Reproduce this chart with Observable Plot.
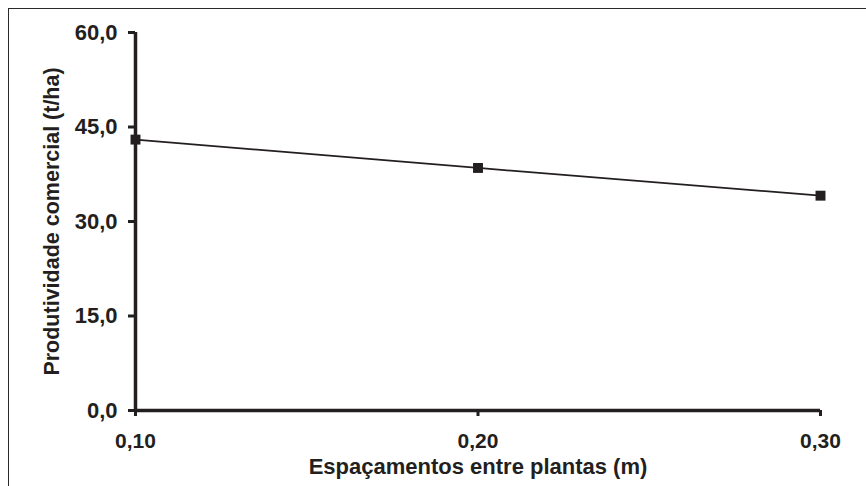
<!DOCTYPE html>
<html>
<head>
<meta charset="utf-8">
<script src="https://cdn.jsdelivr.net/npm/d3@7"></script>
<script src="https://cdn.jsdelivr.net/npm/@observablehq/plot@0.6"></script>
<style>
  html, body { margin: 0; padding: 0; background: #fff; }
  #wrap { position: relative; width: 866px; height: 486px; overflow: hidden; }
  #frame { position: absolute; left: 8px; top: 8px; width: 900px; height: 600px;
           border-top: 1.5px solid #2a2a2a; border-left: 1.5px solid #2a2a2a; pointer-events: none; }
  svg { font-family: "Liberation Sans", Arial, sans-serif; }
</style>
</head>
<body>
<div id="wrap"><div id="frame"></div></div>
<script>
const spacing = [0.10, 0.20, 0.30];
const productivity = [43.0, 38.5, 34.1];
const yTicks = [0, 15, 30, 45, 60];
const xTicks = [0.10, 0.20, 0.30];
const xTitle = "Espaçamentos entre plantas (m)";
const yTitle = "Produtividade comercial (t/ha)";

const data = spacing.map((s, i) => ({x: s, y: productivity[i]}));
const ink = "#231f20";
const yFmt = d => d.toFixed(1).replace(".", ",");
const xFmt = d => d.toFixed(2).replace(".", ",");

const chart = Plot.plot({
  width: 866,
  height: 486,
  marginLeft: 135,
  marginRight: 46,
  marginTop: 32,
  marginBottom: 76,
  style: {fontFamily: '"Liberation Sans", Arial, sans-serif', background: "transparent", color: ink},
  x: {domain: [0.10, 0.30]},
  y: {domain: [0, 60]},
  marks: [
    Plot.axisY(yTicks, {tickSize: 7, strokeWidth: 3, stroke: ink, tickFormat: () => "", label: null}),
    Plot.axisX(xTicks, {tickSize: 6, strokeWidth: 3, stroke: ink, tickFormat: () => "", label: null}),
    Plot.text(yTicks, {x: () => 0.10, y: d => d, text: yFmt, dx: -18, textAnchor: "end",
      fontSize: 22, fontWeight: "bold", fill: ink}),
    Plot.text(xTicks, {x: d => d, y: () => 0, text: xFmt, dy: 31, textAnchor: "middle",
      fontSize: 21, fontWeight: "bold", fill: ink}),
    Plot.ruleX([0.10], {y1: 0, y2: 60, stroke: ink, strokeWidth: 3.5}),
    Plot.ruleY([0], {x1: 0.10, x2: 0.30, stroke: ink, strokeWidth: 3.5}),
    Plot.line(data, {x: "x", y: "y", stroke: ink, strokeWidth: 1.7}),
    Plot.dot(data, {x: "x", y: "y", symbol: "square", r: 5.6, fill: ink, stroke: "none"}),
    Plot.text([xTitle], {frameAnchor: "bottom", dy: 56, lineAnchor: "middle", textAnchor: "middle",
      fontSize: 22, fontWeight: "bold", fill: ink}),
    Plot.text([yTitle], {frameAnchor: "left", dx: -83, rotate: -90, textAnchor: "middle", lineAnchor: "middle",
      fontSize: 21.5, fontWeight: "bold", fill: ink})
  ]
});
chart.style.position = "absolute";
chart.style.left = "0px";
chart.style.top = "0px";
document.getElementById("wrap").appendChild(chart);
</script>
</body>
</html>
